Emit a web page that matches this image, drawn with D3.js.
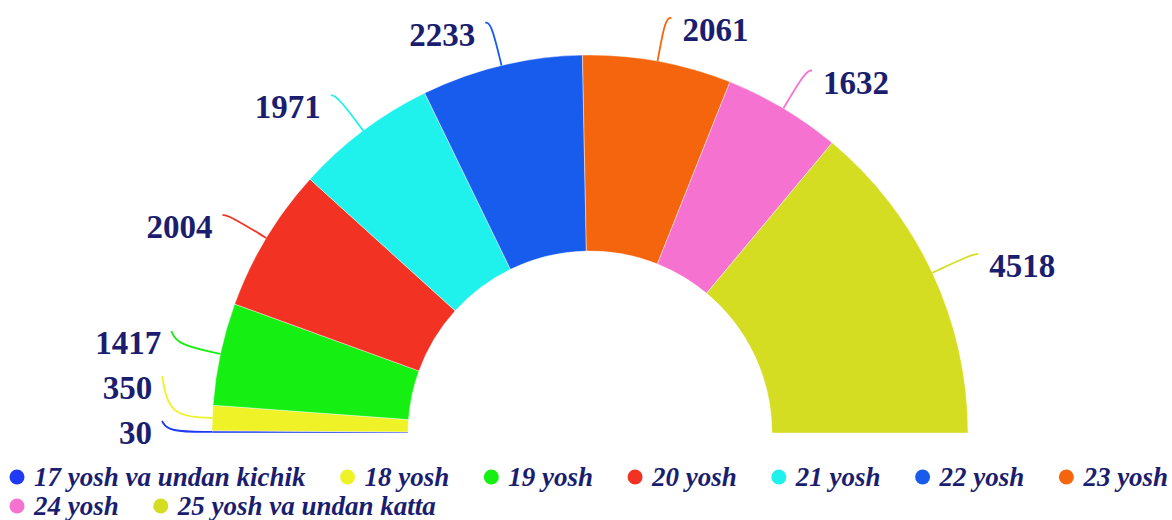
<!DOCTYPE html>
<html>
<head>
<meta charset="utf-8">
<script src="https://cdn.jsdelivr.net/npm/d3@7"></script>
<style>
  html, body { margin: 0; padding: 0; background: #fff; }
  svg { display: block; }
</style>
</head>
<body>
<script>
// chart data
var categories = ["17 yosh va undan kichik", "18 yosh", "19 yosh", "20 yosh", "21 yosh",
                  "22 yosh", "23 yosh", "24 yosh", "25 yosh va undan katta"];
var values = [30, 350, 1417, 2004, 1971, 2233, 2061, 1632, 4518];
var colors = ["#1f3af2", "#eef226", "#15f012", "#f23223", "#1ff2ec",
              "#185cee", "#f5650e", "#f572d0", "#d5dd22"];

var W = 1172, H = 520;
var cx = 590, cy = 433, rOuter = 378, rInner = 182;
var textColor = "#1b1e6e";

var svg = d3.select("body").append("svg")
    .attr("width", W)
    .attr("height", H);

var color = d3.scaleOrdinal().domain(categories).range(colors);

var pie = d3.pie()
    .sort(null)
    .startAngle(-Math.PI / 2)
    .endAngle(Math.PI / 2)
    .value(function(d) { return d.value; });

var data = categories.map(function(c, i) { return { name: c, value: values[i] }; });
var arcs = pie(data);

var arc = d3.arc().innerRadius(rInner).outerRadius(rOuter);

var g = svg.append("g").attr("transform", "translate(" + cx + "," + cy + ")");

g.selectAll("path.slice")
    .data(arcs)
    .enter()
    .append("path")
    .attr("class", "slice")
    .attr("d", arc)
    .attr("fill", function(d) { return color(d.data.name); })
    .attr("stroke", "rgba(255,255,255,0.7)")
    .attr("stroke-width", 0.6);

// label layout: radial leg, short horizontal leg, then push apart
var len1 = 44, len2 = 6, minGap = 45;
var labels = arcs.map(function(d) {
  var a = (d.startAngle + d.endAngle) / 2;
  var sx = Math.sin(a) * rOuter, sy = -Math.cos(a) * rOuter;
  var ex = Math.sin(a) * (rOuter + len1), ey = -Math.cos(a) * (rOuter + len1);
  var right = Math.sin(a) > 0;
  return {
    d: d, right: right,
    start: [sx, sy], elbow: [ex, ey],
    end: [ex + (right ? len2 : -len2), ey]
  };
});

function spread(list) {
  list.sort(function(a, b) { return b.end[1] - a.end[1]; });
  var prev = null;
  list.forEach(function(l) {
    var y = Math.min(l.end[1], -12);
    if (prev !== null) y = Math.min(y, prev - minGap);
    l.end[1] = y;
    prev = y;
  });
}
spread(labels.filter(function(l) { return !l.right; }));
spread(labels.filter(function(l) { return l.right; }));

var line = d3.line().curve(d3.curveBasis);

g.selectAll("path.leader")
    .data(labels)
    .enter()
    .append("path")
    .attr("class", "leader")
    .attr("d", function(l) {
      return line([l.start, l.start, l.elbow, l.end, l.end]);
    })
    .attr("fill", "none")
    .attr("stroke", function(l) { return color(l.d.data.name); })
    .attr("stroke-width", 1.8);

g.selectAll("text.val")
    .data(labels)
    .enter()
    .append("text")
    .attr("class", "val")
    .attr("x", function(l) { return l.end[0] + (l.right ? 11 : -10); })
    .attr("y", function(l) { return l.end[1] + 12; })
    .attr("dominant-baseline", "central")
    .attr("text-anchor", function(l) { return l.right ? "start" : "end"; })
    .attr("font-family", "'Liberation Serif', 'Times New Roman', serif")
    .attr("font-weight", "bold")
    .attr("font-size", 33)
    .attr("fill", textColor)
    .text(function(l) { return l.d.data.value; });

// legend
var legend = svg.append("g");
var lx = 17, ly = 477, rowH = 29, dotR = 7.5;
categories.forEach(function(c) {
  var item = legend.append("g");
  item.append("circle")
      .attr("r", dotR)
      .attr("fill", color(c));
  var t = item.append("text")
      .attr("x", 17)
      .attr("dominant-baseline", "central")
      .attr("font-family", "'Liberation Serif', 'Times New Roman', serif")
      .attr("font-weight", "bold")
      .attr("font-style", "italic")
      .attr("font-size", 27)
      .attr("fill", textColor)
      .text(c);
  var w = 17 + t.node().getComputedTextLength();
  if (lx + w > W - 2) { lx = 17; ly += rowH; }
  item.attr("transform", "translate(" + lx + "," + ly + ")");
  lx += w + 42;
});
</script>
</body>
</html>
